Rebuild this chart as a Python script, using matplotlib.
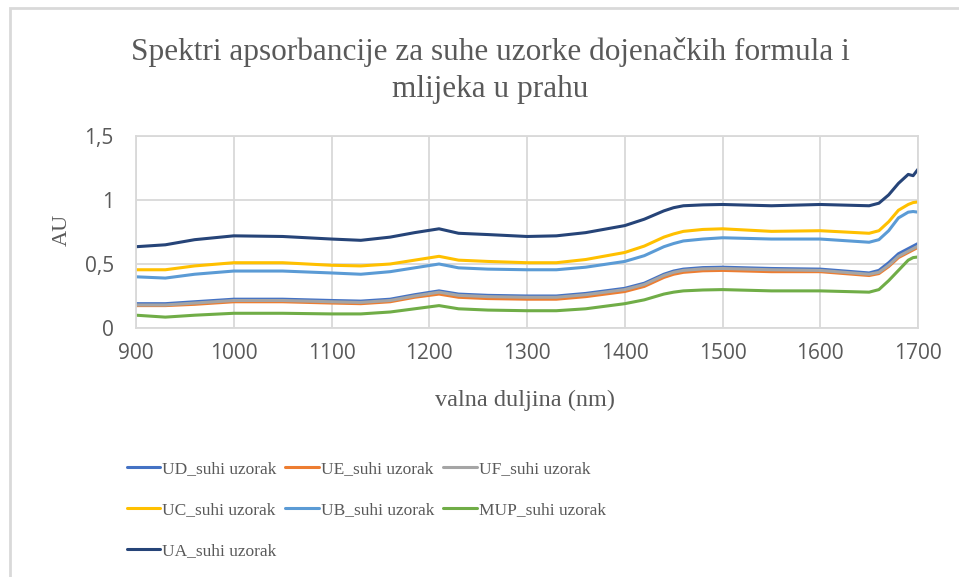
import matplotlib
matplotlib.use("Agg")
import matplotlib.pyplot as plt
from matplotlib.patches import Rectangle

wavelength = [900, 930, 960, 1000, 1050, 1100, 1130, 1160, 1185, 1210, 1230, 1260, 1300, 1330,
              1360, 1400, 1420, 1440, 1450, 1460, 1480, 1500, 1550, 1600, 1650, 1660, 1670, 1680,
              1690, 1695, 1700]

UD = [0.19, 0.19, 0.205, 0.225, 0.225, 0.215, 0.21, 0.225, 0.26, 0.29, 0.265, 0.255, 0.25, 0.25,
      0.27, 0.31, 0.35, 0.42, 0.445, 0.46, 0.472, 0.475, 0.465, 0.46, 0.43, 0.45, 0.51, 0.58,
      0.62, 0.64, 0.66]
UE = [0.175, 0.175, 0.185, 0.205, 0.205, 0.195, 0.19, 0.205, 0.24, 0.265, 0.24, 0.23, 0.225, 0.225,
      0.245, 0.285, 0.325, 0.395, 0.42, 0.435, 0.447, 0.45, 0.44, 0.44, 0.41, 0.425, 0.48, 0.55,
      0.59, 0.61, 0.63]
UF = [0.18, 0.18, 0.195, 0.215, 0.215, 0.205, 0.2, 0.215, 0.25, 0.28, 0.255, 0.245, 0.24, 0.24,
      0.26, 0.3, 0.34, 0.41, 0.435, 0.45, 0.462, 0.465, 0.455, 0.45, 0.42, 0.435, 0.49, 0.56,
      0.6, 0.62, 0.64]
UC = [0.455, 0.455, 0.485, 0.51, 0.51, 0.49, 0.485, 0.50, 0.53, 0.56, 0.53, 0.52, 0.51, 0.51,
      0.535, 0.59, 0.64, 0.71, 0.735, 0.755, 0.77, 0.775, 0.755, 0.76, 0.74, 0.76, 0.83, 0.92,
      0.965, 0.98, 0.985]
UB = [0.40, 0.39, 0.42, 0.445, 0.445, 0.43, 0.42, 0.44, 0.47, 0.50, 0.47, 0.46, 0.455, 0.455,
      0.475, 0.52, 0.565, 0.635, 0.66, 0.68, 0.695, 0.705, 0.695, 0.695, 0.67, 0.69, 0.76, 0.86,
      0.905, 0.91, 0.905]
MUP = [0.10, 0.085, 0.10, 0.115, 0.115, 0.11, 0.11, 0.125, 0.15, 0.175, 0.15, 0.14, 0.135, 0.135,
       0.15, 0.19, 0.22, 0.265, 0.28, 0.29, 0.297, 0.30, 0.29, 0.29, 0.28, 0.30, 0.37, 0.45,
       0.53, 0.55, 0.555]
UA = [0.635, 0.65, 0.69, 0.72, 0.715, 0.695, 0.685, 0.71, 0.745, 0.775, 0.74, 0.73, 0.715, 0.72,
      0.745, 0.80, 0.85, 0.915, 0.94, 0.955, 0.962, 0.965, 0.955, 0.965, 0.955, 0.975, 1.04, 1.13,
      1.2, 1.19, 1.24]

series_names = ["UD_suhi uzorak", "UE_suhi uzorak", "UF_suhi uzorak", "UC_suhi uzorak",
                "UB_suhi uzorak", "MUP_suhi uzorak", "UA_suhi uzorak"]
series_values = [UD, UE, UF, UC, UB, MUP, UA]
colors = ["#4472C4", "#ED7D31", "#A5A5A5", "#FFC000", "#5B9BD5", "#70AD47", "#264478"]

x_ticks = [900, 1000, 1100, 1200, 1300, 1400, 1500, 1600, 1700]
y_ticks = [0, 0.5, 1, 1.5]
y_tick_labels = ["0", "0,5", "1", "1,5"]

W, H = 959, 577
fig = plt.figure(figsize=(W / 100, H / 100), dpi=100)

# chart border (light grey frame)
fig.patches.append(Rectangle((10 / W, -0.1), 1.2, (H - 8) / H + 0.1, transform=fig.transFigure,
                             fill=False, edgecolor="#D9D9D9", linewidth=2.0))

ax = fig.add_axes([136 / W, 1 - 328 / H, (918 - 136) / W, (328 - 136) / H])
lines = []
for name, vals, c in zip(series_names, series_values, colors):
    ln, = ax.plot(wavelength, vals, color=c, linewidth=2.2, label=name, solid_capstyle="round",
                  solid_joinstyle="round")
    lines.append(ln)

ax.set_xlim(900, 1700)
ax.set_ylim(0, 1.5)
ax.set_xticks(x_ticks)
ax.set_yticks(y_ticks)
ax.set_yticklabels(y_tick_labels)
ax.grid(True, color="#D9D9D9", linewidth=1.3)
ax.set_axisbelow(True)
for s in ax.spines.values():
    s.set_color("#D9D9D9")
    s.set_linewidth(1.3)
ax.tick_params(length=0, labelsize=15, labelcolor="#595959")
ax.tick_params(axis="x", pad=11)
ax.tick_params(axis="y", pad=16)
for lab in ax.get_xticklabels() + ax.get_yticklabels():
    lab.set_fontfamily("Open Sans")

serif = "Liberation Serif"
fig.text(490 / W, 1 - 52 / H, "Spektri apsorbancije za suhe uzorke dojenačkih formula i",
         ha="center", va="center", fontsize=22.5, family=serif, color="#595959")
fig.text(490 / W, 1 - 90 / H, "mlijeka u prahu",
         ha="center", va="center", fontsize=22.5, family=serif, color="#595959")
fig.text(525 / W, 1 - 400 / H, "valna duljina (nm)", ha="center", va="center",
         fontsize=17.5, family=serif, color="#595959")
fig.text(62 / W, 1 - 230 / H, "AU", ha="center", va="center", rotation=90,
         fontsize=16, family=serif, color="#595959")

order = [0, 3, 6, 1, 4, 2, 5]
leg = fig.legend([lines[i] for i in order], [series_names[i] for i in order],
                 ncol=3, frameon=False, loc="upper left",
                 bbox_to_anchor=(111 / W, 1 - 445 / H),
                 prop={"family": serif, "size": 12.5}, handlelength=1.95, handletextpad=0.1,
                 columnspacing=0.5, labelspacing=1.45, labelcolor="#595959")

fig.savefig("out.png", dpi=100, facecolor="white")
